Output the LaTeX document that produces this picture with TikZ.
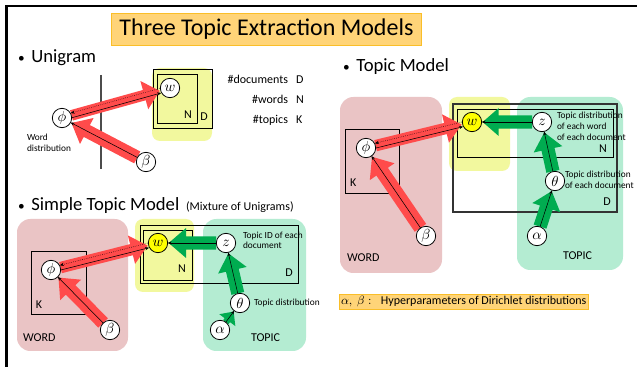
\documentclass[tikz,border=0pt]{standalone}
\usepackage{fontspec}
\setmainfont{Carlito}
\usetikzlibrary{arrows.meta,calc}
\definecolor{redarr}{RGB}{255,75,75}
\definecolor{greenarr}{RGB}{0,172,80}
\definecolor{wordbg}{RGB}{234,196,197}
\definecolor{topicbg}{RGB}{180,236,210}
\definecolor{yelbg}{RGB}{242,248,158}
\definecolor{wyellow}{RGB}{255,255,0}
\definecolor{titlefill}{RGB}{255,212,120}
\definecolor{titledraw}{RGB}{250,190,40}
\pgfdeclarelayer{back}
\pgfdeclarelayer{mid}
\pgfdeclarelayer{arr}
\pgfsetlayers{back,mid,arr,main}
\newcommand{\twinlines}[2]{%
  \draw[thinarr, densely dotted, shorten >=7.3pt, shorten <=7.3pt] ($(#2.center)!1.8pt!-90:(#1.center)$) -- ($(#1.center)!1.8pt!90:(#2.center)$);
  \draw[thinarr, shorten >=7.3pt, shorten <=7.3pt] ($(#1.center)!1.8pt!-90:(#2.center)$) -- ($(#2.center)!1.8pt!90:(#1.center)$);}
% fat arrow: colour, source, target, half shaft, half head, head length
\newcommand{\fatarrow}[6]{%
  \path ($(#2.center)!7.4pt!(#3.center)$) coordinate (faA)
        ($(#3.center)!8pt!(#2.center)$) coordinate (faB);
  \path ($(faB)!#6!(faA)$) coordinate (faH);
  \fill[#1] ($(faA)!#4!90:(faB)$) -- ($(faH)!#4!90:(faB)$) -- ($(faH)!#5!90:(faB)$) -- (faB) -- ($(faH)!#5!-90:(faB)$) -- ($(faH)!#4!-90:(faB)$) -- ($(faA)!#4!-90:(faB)$) -- cycle;}
\newcommand{\bul}{{\fontsize{10}{10}\selectfont\raisebox{0.5pt}{•}}\hspace{5pt}}
\begin{document}
\begin{tikzpicture}[x=0.75pt,y=-0.75pt,
  every node/.style={inner sep=0pt, outer sep=0pt},
  var/.style={circle, draw, fill=white, minimum size=14.5pt, inner sep=0pt, line width=0.6pt, font=\fontsize{10.5}{10.5}\selectfont},
  obs/.style={var, fill=wyellow},
  plate/.style={draw=black, line width=0.75pt},
  thinarr/.style={draw=black, line width=0.4pt, -{Stealth[length=3pt,width=2.4pt]}},
  lbl/.style={font=\fontsize{9}{10}\selectfont, anchor=base west},
  lble/.style={font=\fontsize{9}{10}\selectfont, anchor=base east},
  small/.style={font=\fontsize{7}{8}\selectfont, anchor=base west},
  head/.style={font=\fontsize{14}{16}\selectfont, anchor=base west},
  wordbox/.style={fill=wordbg, rounded corners=10pt},
  topicbox/.style={fill=topicbg, rounded corners=10pt},
  yelbox/.style={fill=yelbg, rounded corners=6pt},
]
\useasboundingbox (0,0) rectangle (637,367);
\begin{pgfonlayer}{back}
  \fill[white] (0,0) rectangle (637,367);
\end{pgfonlayer}
% slide frame
\draw[line width=1.5pt] (6.5,367) -- (6.5,6.5) -- (637,6.5);

% title
\node[fill=titlefill, draw=titledraw, line width=0.8pt, minimum width=233pt, minimum height=24.5pt, font=\fontsize{18}{20}\selectfont] (title) at (266.5,29.5) {Three Topic Extraction Models};

% ---------------- Unigram ----------------
\node[head] (hUni) at (18,63) {\bul Unigram};
\begin{pgfonlayer}{back}
  \fill[yelbox] (152,68) rectangle (212,141);
\end{pgfonlayer}
\begin{pgfonlayer}{mid}
  \draw[plate] (153,70) rectangle (212,129);
  \draw[plate] (157,75) rectangle (197,124);
  \draw[draw=black!70, line width=1pt] (101,75) -- (101,169);
\end{pgfonlayer}
\node[var] (uphi) at (62,118) {$\phi$};
\node[var] (uw) at (170,88) {$w$};
\node[var] (ubeta) at (146,162) {$\beta$};
\node[lbl, anchor=base] (uN) at (188,119) {N};
\node[lbl, anchor=base] (uD) at (204,121) {D};
\node[small] (uwd1) at (27,141) {Word};
\node[small] (uwd2) at (27,152) {distribution};
\node[lble] (ndoc) at (288,84) {\#documents};
\node[lbl] (ndocD) at (296,84) {D};
\node[lble] (nwrd) at (288,104) {\#words};
\node[lbl] (nwrdN) at (296,104) {N};
\node[lble] (ntop) at (288,124) {\#topics};
\node[lbl] (ntopK) at (296,124) {K};
\begin{pgfonlayer}{arr}
  \fatarrow{redarr}{uphi}{uw}{4pt}{11pt}{12pt}
  \fatarrow{redarr}{ubeta}{uphi}{5pt}{11pt}{13pt}
\end{pgfonlayer}
\twinlines{uphi}{uw}
\draw[thinarr] (ubeta) -- (uphi);

% ---------------- Simple Topic Model ----------------
\node[head] (hSim) at (18,211) {\bul Simple Topic Model\hspace{5pt}{\fontsize{9}{10}\selectfont (Mixture of Unigrams)}};
\begin{pgfonlayer}{back}
  \fill[wordbox] (17,219) rectangle (128,351);
  \fill[yelbox] (135,219) rectangle (194,292);
  \fill[topicbox] (203,219) rectangle (306,351);
\end{pgfonlayer}
\begin{pgfonlayer}{mid}
  \draw[plate] (31,252) rectangle (86,315);
  \draw[plate] (140,226) rectangle (298,284);
  \draw[plate] (143,231) rectangle (192,281);
\end{pgfonlayer}
\node[var] (sphi) at (51,270) {$\phi$};
\node[var] (sbeta) at (110,330) {$\beta$};
\node[obs] (sw) at (158,243) {$w$};
\node[var] (sz) at (226,243) {$z$};
\node[var] (stheta) at (240,303) {$\theta$};
\node[var] (salpha) at (220,330) {$\alpha$};
\node[lbl] (sK) at (36,309) {K};
\node[lbl] (sWORD) at (23,342) {WORD};
\node[lbl, anchor=base] (sN) at (182,273) {N};
\node[lbl, anchor=base] (sD) at (289,277) {D};
\node[small] (sid1) at (243,239) {Topic ID of each};
\node[small] (sid2) at (243,249) {document};
\node[small] (sdist) at (254,306) {Topic distribution};
\node[lbl] (sTOPIC) at (251,342) {TOPIC};
\begin{pgfonlayer}{arr}
  \fatarrow{redarr}{sphi}{sw}{4.3pt}{11pt}{12.5pt}
  \fatarrow{redarr}{sbeta}{sphi}{5pt}{11pt}{13pt}
  \fatarrow{greenarr}{sz}{sw}{4.9pt}{11.2pt}{13pt}
  \fatarrow{greenarr}{stheta}{sz}{4.9pt}{11pt}{13pt}
  \fatarrow{greenarr}{salpha}{stheta}{2.5pt}{7.5pt}{8pt}
\end{pgfonlayer}
\twinlines{sphi}{sw}
\draw[thinarr] (sbeta) -- (sphi);
\draw[thinarr] (sz) -- (sw);
\draw[thinarr] (stheta) -- (sz);
\draw[thinarr] (salpha) -- (stheta);

% ---------------- Topic Model ----------------
\node[head] (hTop) at (343,72) {\bul Topic Model};
\begin{pgfonlayer}{back}
  \fill[wordbox] (340,97) rectangle (442,273);
  \fill[yelbox] (449,97) rectangle (510,171);
  \fill[topicbox] (517,97) rectangle (623,270);
\end{pgfonlayer}
\begin{pgfonlayer}{mid}
  \draw[plate] (345,130) rectangle (399,194);
  \draw[plate, draw=black!80, line width=0.9pt] (453,104) rectangle (617,212);
  \draw[plate] (457,110) rectangle (613,158);
\end{pgfonlayer}
\node[var] (tphi) at (366,148) {$\phi$};
\node[var] (tbeta) at (426,236) {$\beta$};
\node[obs] (tw) at (472,122) {$w$};
\node[var] (tz) at (542,122) {$z$};
\node[var] (ttheta) at (555,181) {$\theta$};
\node[var] (talpha) at (537,236) {$\alpha$};
\node[lbl] (tK) at (350,187) {K};
\node[lbl] (tWORD) at (347,262) {WORD};
\node[lbl, anchor=base] (tN) at (603,153) {N};
\node[lbl, anchor=base] (tD) at (607,206) {D};
\node[small] (tzd1) at (557,119) {Topic distribution};
\node[small] (tzd2) at (557,130) {of each word};
\node[small] (tzd3) at (557,141) {of each document};
\node[small] (ttd1) at (565,178) {Topic distribution};
\node[small] (ttd2) at (565,189) {of each document};
\node[lbl] (tTOPIC) at (563,260) {TOPIC};
\begin{pgfonlayer}{arr}
  \fatarrow{redarr}{tphi}{tw}{4.3pt}{11pt}{12.5pt}
  \fatarrow{redarr}{tbeta}{tphi}{5.2pt}{11.2pt}{13.5pt}
  \fatarrow{greenarr}{tz}{tw}{5pt}{10.5pt}{12pt}
  \fatarrow{greenarr}{ttheta}{tz}{5pt}{11pt}{13pt}
  \fatarrow{greenarr}{talpha}{ttheta}{5pt}{11pt}{13pt}
\end{pgfonlayer}
\twinlines{tphi}{tw}
\draw[thinarr] (tbeta) -- (tphi);
\draw[thinarr] (tz) -- (tw);
\draw[thinarr] (ttheta) -- (tz);
\draw[thinarr] (talpha) -- (ttheta);

% hyperparameter note
\begin{pgfonlayer}{back}
  \fill[titlefill] (339,294) rectangle (588,309);
  \draw[titledraw, line width=0.7pt] (339,294) rectangle (588,309);
\end{pgfonlayer}
\node[lbl] (note) at (341,305) {$\alpha,\ \beta:$\hspace{7pt}Hyperparameters of Dirichlet distributions};
\end{tikzpicture}
\end{document}
